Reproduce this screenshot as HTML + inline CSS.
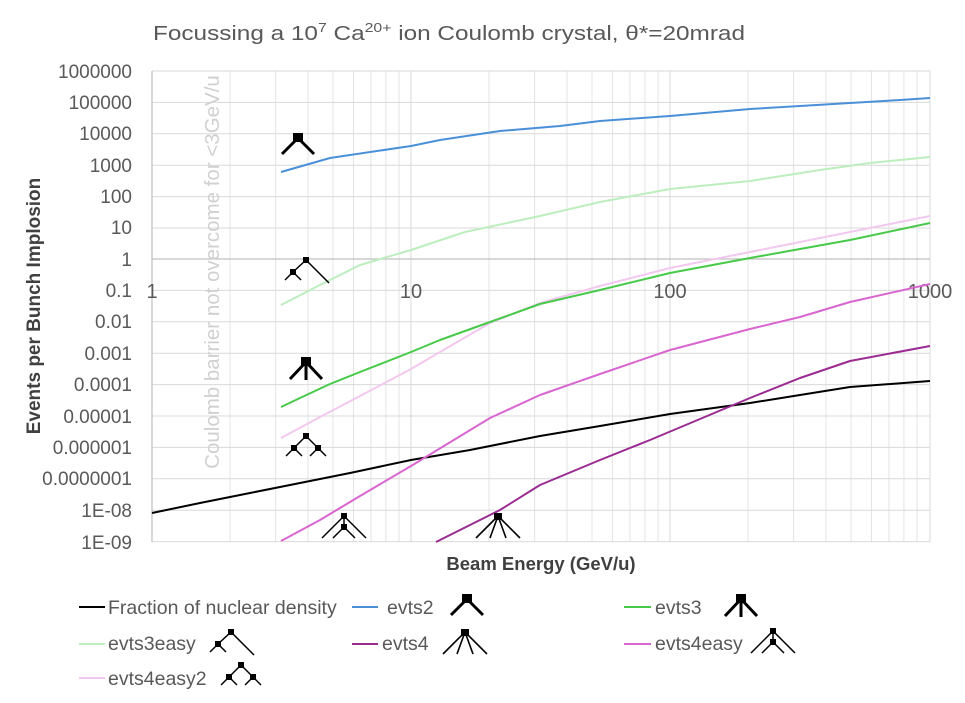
<!DOCTYPE html>
<html><head><meta charset="utf-8"><style>
html,body{margin:0;padding:0;background:#fff;}
svg{display:block;font-family:"Liberation Sans",sans-serif;}
</style></head><body>
<svg width="965" height="703" viewBox="0 0 965 703" xmlns="http://www.w3.org/2000/svg">
<defs>
<g id="iA" stroke="#000" stroke-width="3" fill="none"><rect x="-5" y="0" width="10" height="9" fill="#000" stroke="none"/><path d="M0 5L-16 21M0 5L16 21"/></g>
<g id="iB" stroke="#000" stroke-width="3" fill="none"><rect x="-5" y="0" width="10" height="9" fill="#000" stroke="none"/><path d="M0 5L-16 22M0 5L16 22M0 5V23"/></g>
<g id="iC" stroke="#000" stroke-width="1.5" fill="none"><path d="M0 3L23 26M0 3L-13 15M-13 15L-21 23M-13 15L-5 23"/><rect x="-3" y="0" width="6" height="6" fill="#000" stroke="none"/><rect x="-16" y="12" width="6" height="6" fill="#000" stroke="none"/></g>
<g id="iD" stroke="#000" stroke-width="1.5" fill="none"><path d="M0 3L-12 15M0 3L12 15M-12 15L-20 23M-12 15L-4 23M12 15L4 23M12 15L20 23"/><rect x="-3" y="0" width="6" height="6" fill="#000" stroke="none"/><rect x="-15" y="12" width="6" height="6" fill="#000" stroke="none"/><rect x="9" y="12" width="6" height="6" fill="#000" stroke="none"/></g>
<g id="iE" stroke="#000" stroke-width="1.6" fill="none"><path d="M0 3L-22 25M0 3L-8 25M0 3L8 25M0 3L22 25"/><rect x="-4" y="0" width="8" height="7" fill="#000" stroke="none"/></g>
<g id="iF" stroke="#000" stroke-width="1.5" fill="none"><path d="M0 3L-22 25M0 3L22 25M0 3V14M0 14L-11 25M0 14L11 25"/><rect x="-3" y="0" width="6" height="6" fill="#000" stroke="none"/><rect x="-3" y="11" width="6" height="6" fill="#000" stroke="none"/></g>
</defs>
<text x="449" y="40" text-anchor="middle" font-size="20" fill="#595959" textLength="592" lengthAdjust="spacingAndGlyphs">Focussing a 10<tspan font-size="13" dy="-8">7</tspan><tspan dy="8"> Ca</tspan><tspan font-size="13" dy="-8">20+</tspan><tspan dy="8"> ion Coulomb crystal, θ*=20mrad</tspan></text>
<g stroke="#e4e4e4" stroke-width="1">
<path d="M230 71V542M275.6 71V542M308 71V542M333 71V542M353.5 71V542M370.9 71V542M385.9 71V542M399.1 71V542M489 71V542M534.6 71V542M567 71V542M592 71V542M612.5 71V542M629.9 71V542M644.9 71V542M658.1 71V542M748 71V542M793.6 71V542M826 71V542M851 71V542M871.5 71V542M888.9 71V542M903.9 71V542M917.1 71V542"/>
<path stroke="#d9d9d9" d="M411 71V542M670 71V542M930 71V542"/>
<path stroke="#d9d9d9" d="M152 71H930M152 102.4H930M152 133.8H930M152 165.2H930M152 196.6H930M152 228H930M152 290.4H930M152 321.8H930M152 353.2H930M152 384.6H930M152 416H930M152 447.4H930M152 478.8H930M152 510.2H930M152 541.6H930"/>
</g>
<path d="M152 71V542M152 259H930" stroke="#bfbfbf" stroke-width="1.2"/>
<text transform="translate(219,272) rotate(-90)" text-anchor="middle" font-size="20.5" fill="#d0d0d0">Coulomb barrier not overcome for &lt;3GeV/u</text>
<g font-size="19" fill="#595959" text-anchor="end">
<text x="132" y="78">1000000</text><text x="132" y="109">100000</text><text x="132" y="140">10000</text><text x="132" y="172">1000</text><text x="132" y="203">100</text><text x="132" y="234">10</text><text x="132" y="266">1</text><text x="132" y="297">0.1</text><text x="132" y="328">0.01</text><text x="132" y="360">0.001</text><text x="132" y="391">0.0001</text><text x="132" y="423">0.00001</text><text x="132" y="454">0.000001</text><text x="132" y="485">0.0000001</text><text x="132" y="517">1E-08</text><text x="132" y="549">1E-09</text>
</g>
<g font-size="20" fill="#595959" text-anchor="middle">
<text x="152" y="298">1</text><text x="411" y="298">10</text><text x="670" y="298">100</text><text x="930" y="298">1000</text>
</g>
<text x="541" y="570" text-anchor="middle" font-size="18.5" font-weight="bold" fill="#404040">Beam Energy (GeV/u)</text>
<text transform="translate(40,306) rotate(-90)" text-anchor="middle" font-size="19" font-weight="bold" fill="#404040">Events per Bunch Implosion</text>
<g fill="none" stroke-width="2" stroke-linejoin="round">
<polyline stroke="#000" points="152,513 200,503 250,493 300,483 350,473 411,460 470,450 540,436 600,426 670,414 750,403 800,395 850,387 930,381"/>
<polyline stroke="#4a90d9" points="281,172 330,158 411,146 440,140 500,131 560,126 600,121 670,116 750,109 800,106 850,103 900,100 930,98"/>
<polyline stroke="#bdeebd" points="281,305 320,285 360,265 411,250 465,232 540,216 600,202 670,189 750,181 820,170 870,163 930,157"/>
<polyline stroke="#f2c8ee" points="281,438 320,417 360,396 411,369 440,352 490,323 540,303 600,286 670,268 750,252 850,232 930,216"/>
<polyline stroke="#47c94a" points="281,407 300,398 330,384 360,372 411,352 440,340 490,322 540,304 600,290 670,273 750,258 800,249 850,240 930,223"/>
<polyline stroke="#d966d0" points="281,541 320,520 360,496 411,466 490,418 540,395 600,374 670,350 750,329 800,317 850,302 930,284"/>
<polyline stroke="#9b2b92" points="436,542 500,510 540,485 600,460 650,440 700,419 750,398 800,378 850,361 930,346"/>
</g>
<use href="#iA" x="298" y="133"/>
<use href="#iC" x="306" y="257"/>
<use href="#iB" x="306" y="357"/>
<use href="#iD" x="306" y="433"/>
<use href="#iF" x="344" y="513"/>
<use href="#iE" x="498" y="513"/>
<g font-size="19.5" fill="#595959">
<path d="M79 607H105" stroke="#000" stroke-width="2"/><text x="108" y="614">Fraction of nuclear density</text>
<path d="M352 607H378" stroke="#4a90d9" stroke-width="2"/><text x="387" y="614">evts2</text>
<path d="M624 607H651" stroke="#47c94a" stroke-width="2"/><text x="655" y="614">evts3</text>
<path d="M79 644H105" stroke="#bdeebd" stroke-width="2"/><text x="108" y="650">evts3easy</text>
<path d="M352 644H378" stroke="#9b2b92" stroke-width="2"/><text x="382" y="650">evts4</text>
<path d="M624 644H651" stroke="#d966d0" stroke-width="2"/><text x="655" y="650">evts4easy</text>
<path d="M79 678H105" stroke="#f2c8ee" stroke-width="2"/><text x="108" y="685">evts4easy2</text>
</g>
<use href="#iA" x="467" y="594"/>
<use href="#iB" x="741" y="594"/>
<use href="#iC" x="231" y="629"/>
<use href="#iE" x="465" y="629"/>
<use href="#iF" x="773" y="628"/>
<use href="#iD" x="241" y="662"/>
</svg>
</body></html>
